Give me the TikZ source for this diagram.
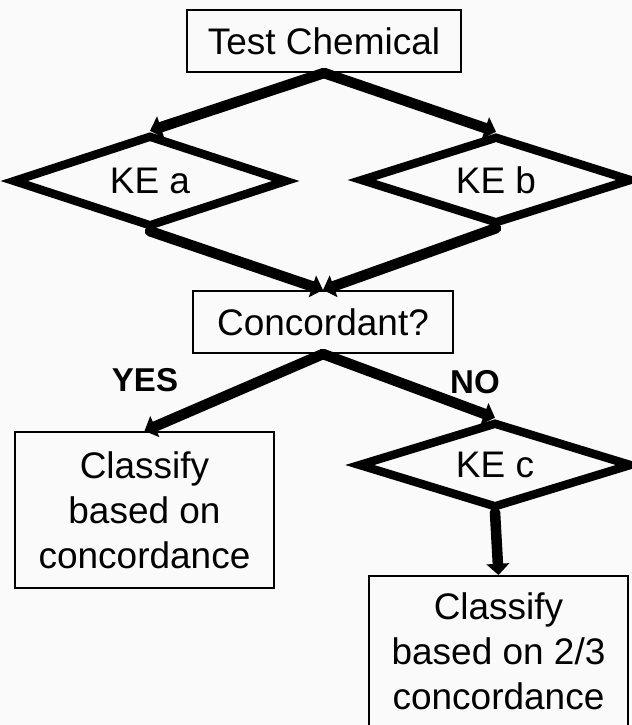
\documentclass[tikz,border=0pt]{standalone}
\usepackage{fontspec}
\setmainfont{Liberation Sans}
\usetikzlibrary{shapes.geometric,arrows.meta}
\definecolor{paper}{RGB}{250,250,250}

\begin{document}
\begin{tikzpicture}[x=0.025cm,y=-0.025cm]
\tikzstyle{every node}+=[inner sep=0pt]
\tikzstyle{txt}=[font=\fontsize{26.3}{32}\selectfont,align=center]
\tikzstyle{box}=[txt,draw=black,line width=1.4pt]
\tikzstyle{ke}=[txt,diamond,aspect=3,draw=black,line width=6pt]
\tikzstyle{answer}=[font=\bfseries\fontsize{23.5}{28}\selectfont]
\tikzstyle{link}=[black,line width=7.5pt,line cap=round,-{Triangle[width=16pt,length=8pt]}]
\fill [paper] (0,0) rectangle (632,725);
\useasboundingbox (0,0) rectangle (632,725);
\node [box,minimum width=6.85cm,minimum height=1.55cm] (test) at (324,41) {Test Chemical};
\node [ke,minimum width=6.875cm,minimum height=2.3cm] (kea) at (150,181) {KE a};
\node [ke,minimum width=6.8cm,minimum height=2.2cm] (keb) at (496,180) {KE b};
\node [box,minimum width=6.5cm,minimum height=1.55cm] (conc) at (323,322) {Concordant?};
\node [answer] (yes) at (145,380) {YES};
\node [answer] (no) at (475,382) {NO};
\node [box,minimum width=6.475cm,minimum height=3.9cm] (cls1) at (144.5,510) {Classify\\based on\\concordance};
\node [ke,minimum width=6.85cm,minimum height=2.15cm] (kec) at (495,465) {KE c};
\node [box,minimum width=6.475cm,minimum height=3.75cm] (cls2) at (498.5,651) {Classify\\based on 2/3\\concordance};
\draw [link] (test.south) -- (kea.north);
\draw [link] (test.south) -- (keb.north);
\draw [link] (kea.south) -- (conc.north);
\draw [link] (keb.south) -- (conc.north);
\draw [link] (conc.south) -- (cls1.north);
\draw [link] (conc.south) -- (kec.north);
\draw [link] (kec.south) -- (cls2.north);
\end{tikzpicture}
\end{document}
